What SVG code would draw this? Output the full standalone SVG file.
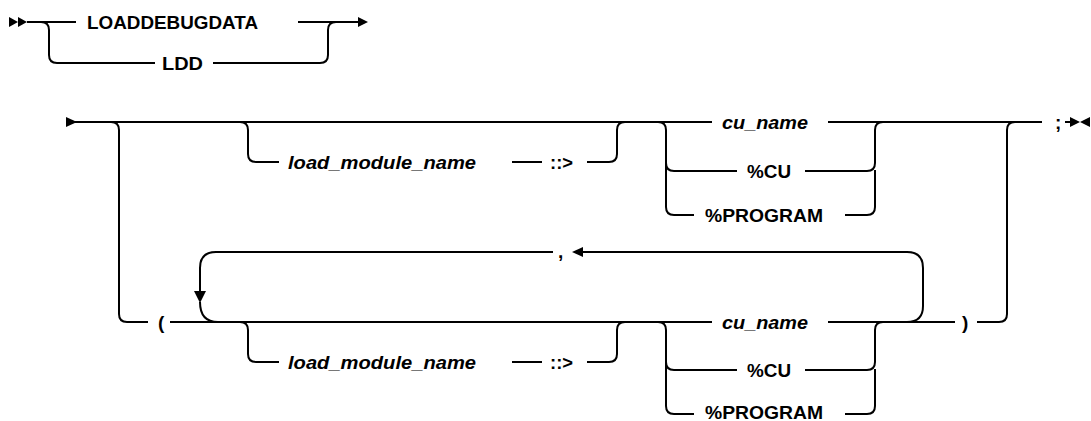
<svg xmlns="http://www.w3.org/2000/svg" width="1091" height="421" viewBox="0 0 1091 421">
<style>
.ln{fill:none;stroke:#000;stroke-width:2}
.ah{fill:#000;stroke:none}
.kw{font-family:"Liberation Sans",Arial,sans-serif;font-weight:bold;font-size:19px;fill:#000}
.var{font-family:"Liberation Sans",Arial,sans-serif;font-weight:bold;font-style:italic;font-size:19px;fill:#000}
</style>
<rect width="1091" height="421" fill="#fff"/>
<g id="connectors">
  <!-- row 1 -->
  <polygon class="ah" points="9,17 18,22 9,27"/>
  <polygon class="ah" points="18,17 27,22 18,27"/>
  <path class="ln" d="M27 22 H76"/>
  <path class="ln" d="M41 22 Q49 22 49 30 V55 Q49 63 57 63 H155"/>
  <path class="ln" d="M213 63 H320 Q328 63 328 55 V30 Q328 22 336 22"/>
  <path class="ln" d="M298 22 H360"/>
  <polygon class="ah" points="358,17 368,22 358,27"/>
  <!-- row 2 -->
  <polygon class="ah" points="66,117 77,122 66,127"/>
  <path class="ln" d="M75 122 H712"/>
  <path class="ln" d="M111 122 Q119 122 119 130 V314 Q119 322 127 322 H148"/>
  <path class="ln" d="M240 122 Q248 122 248 130 V154 Q248 162 256 162 H279"/>
  <path class="ln" d="M512 162 H542"/>
  <path class="ln" d="M587 162 H609 Q617 162 617 154 V130 Q617 122 625 122"/>
  <path class="ln" d="M658 122 Q666 122 666 130 V207 Q666 215 674 215 H694"/>
  <path class="ln" d="M666 163 Q666 171 674 171 H737"/>
  <path class="ln" d="M805 171 H867 Q875 171 875 163 V130 Q875 122 883 122"/>
  <path class="ln" d="M845 215 H867 Q875 215 875 207 V170"/>
  <path class="ln" d="M828 122 H1042"/>
  <path class="ln" d="M999 322 Q1007 322 1007 314 V130 Q1007 122 1015 122"/>
  <path class="ln" d="M1065 122 H1072"/>
  <polygon class="ah" points="1070,117 1080,122 1070,127"/>
  <polygon class="ah" points="1090,117 1080,122 1090,127"/>
  <!-- row 3 -->
  <path class="ln" d="M170 322 H712"/>
  <path class="ln" d="M907 322 Q923 322 923 306 V268 Q923 252 907 252 H580"/>
  <polygon class="ah" points="583,247 572,252 583,257"/>
  <path class="ln" d="M553 252 H216 Q200 252 200 268 V293"/>
  <polygon class="ah" points="194,291 200,303 206,291"/>
  <path class="ln" d="M200 302 Q200 322 218 322"/>
  <path class="ln" d="M240 322 Q248 322 248 330 V354 Q248 362 256 362 H279"/>
  <path class="ln" d="M512 362 H542"/>
  <path class="ln" d="M587 362 H609 Q617 362 617 354 V330 Q617 322 625 322"/>
  <path class="ln" d="M658 322 Q666 322 666 330 V406 Q666 414 674 414 H694"/>
  <path class="ln" d="M666 362 Q666 370 674 370 H737"/>
  <path class="ln" d="M805 370 H867 Q875 370 875 362 V330 Q875 322 883 322"/>
  <path class="ln" d="M845 414 H867 Q875 414 875 406 V369"/>
  <path class="ln" d="M828 322 H955"/>
  <path class="ln" d="M977 322 H999"/>
</g>
<g id="n-loaddebugdata"><text class="kw" x="87" y="29" textLength="171" lengthAdjust="spacingAndGlyphs">LOADDEBUGDATA</text></g>
<g id="n-ldd"><text class="kw" x="162" y="70" textLength="41" lengthAdjust="spacingAndGlyphs">LDD</text></g>
<g id="n-lmn1"><text class="var" x="288" y="169" textLength="188" lengthAdjust="spacingAndGlyphs">load_module_name</text></g>
<g id="n-sep1"><text class="kw" x="550" y="169" textLength="23" lengthAdjust="spacingAndGlyphs">::&gt;</text></g>
<g id="n-cu1"><text class="var" x="722" y="129" textLength="86" lengthAdjust="spacingAndGlyphs">cu_name</text></g>
<g id="n-pcu1"><text class="kw" x="747" y="178" textLength="44" lengthAdjust="spacingAndGlyphs">%CU</text></g>
<g id="n-pprog1"><text class="kw" x="705" y="222" textLength="118" lengthAdjust="spacingAndGlyphs">%PROGRAM</text></g>
<g id="n-semi"><text class="kw" x="1055" y="129">;</text></g>
<g id="n-lparen"><text class="kw" x="158" y="329">(</text></g>
<g id="n-comma"><text class="kw" x="558" y="258">,</text></g>
<g id="n-lmn2"><text class="var" x="288" y="369" textLength="188" lengthAdjust="spacingAndGlyphs">load_module_name</text></g>
<g id="n-sep2"><text class="kw" x="550" y="369" textLength="23" lengthAdjust="spacingAndGlyphs">::&gt;</text></g>
<g id="n-cu2"><text class="var" x="722" y="329" textLength="86" lengthAdjust="spacingAndGlyphs">cu_name</text></g>
<g id="n-pcu2"><text class="kw" x="747" y="377" textLength="44" lengthAdjust="spacingAndGlyphs">%CU</text></g>
<g id="n-pprog2"><text class="kw" x="705" y="419" textLength="118" lengthAdjust="spacingAndGlyphs">%PROGRAM</text></g>
<g id="n-rparen"><text class="kw" x="962" y="329">)</text></g>
</svg>
